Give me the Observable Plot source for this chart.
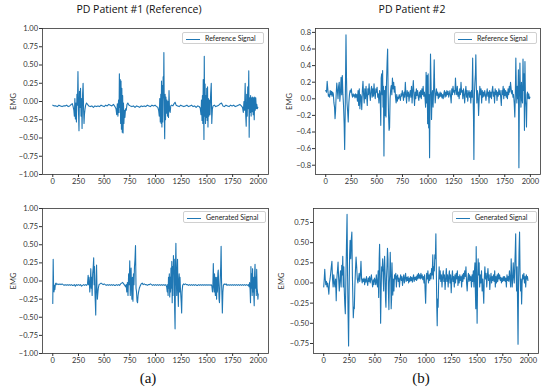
<!DOCTYPE html>
<html><head><meta charset="utf-8">
<script src="https://cdn.jsdelivr.net/npm/d3@7"></script>
<script src="https://cdn.jsdelivr.net/npm/@observablehq/plot@0.6"></script>
<style>
body{margin:0;background:#fff;}
#wrap{position:relative;width:550px;height:392px;background:#fff;overflow:hidden;font-family:Lato,"Open Sans",sans-serif;color:#222;}
.pl{position:absolute;}
.title{position:absolute;font-family:"Open Sans",Lato,sans-serif;font-size:10.5px;white-space:nowrap;transform:translateX(-50%);color:#111;}
.cap{position:absolute;font-family:"Liberation Serif",serif;font-size:15px;transform:translateX(-50%);color:#111;}
.leg{position:absolute;border:1px solid #d0d0d0;border-radius:2px;background:#fff;font-size:7px;height:10px;line-height:10px;white-space:nowrap;color:#222;}
.leg span.ln{display:inline-block;width:14px;height:0;border-top:1.4px solid #1f77b4;vertical-align:middle;margin:0 5px 0 3px;}
</style></head>
<body><div id="wrap"></div>
<script>
const titles = ["PD Patient #1 (Reference)", "PD Patient #2"];
const legendLabels = ["Reference Signal", "Generated Signal"];
const captions = ["(a)", "(b)"];
const xTicks = [0,250,500,750,1000,1250,1500,1750,2000];
const yTicksA = [-1,-0.75,-0.5,-0.25,0,0.25,0.5,0.75,1];
const yTicksB = [-0.8,-0.6,-0.4,-0.2,0,0.2,0.4,0.6,0.8];
const yTicksD = [-0.75,-0.5,-0.25,0,0.25,0.5,0.75];

const refP1 = [[0,-0.05],[15,-0.06],[30,-0.06],[45,-0.07],[60,-0.05],[75,-0.06],[90,-0.07],[105,-0.06],[120,-0.06],[135,-0.05],[150,-0.07],[165,-0.06],[180,-0.04],[190,-0.03],[198,-0.07],[205,-0.12],[210,-0.20],[215,0.04],[220,-0.24],[225,-0.02],[230,-0.28],[235,0.10],[240,-0.05],[245,0.41],[250,-0.12],[255,-0.40],[260,0.14],[265,-0.08],[270,0.18],[275,-0.20],[280,0.04],[285,-0.37],[290,0.10],[295,0.25],[300,-0.12],[304,-0.30],[308,-0.18],[314,-0.10],[320,-0.05],[328,-0.02],[338,-0.04],[350,-0.06],[365,-0.07],[380,-0.06],[395,-0.08],[410,-0.06],[425,-0.07],[440,-0.06],[455,-0.07],[470,-0.05],[485,-0.06],[500,-0.07],[515,-0.05],[530,-0.06],[545,-0.04],[560,-0.05],[575,-0.06],[590,-0.04],[605,-0.07],[615,-0.10],[622,-0.18],[628,-0.03],[634,-0.20],[640,0.02],[645,-0.15],[648,0.38],[652,-0.08],[656,0.30],[660,-0.30],[664,0.28],[668,-0.38],[672,0.18],[676,-0.42],[680,0.08],[684,-0.43],[688,-0.02],[692,-0.30],[697,-0.12],[702,-0.22],[708,-0.10],[715,-0.12],[722,-0.04],[730,-0.02],[742,-0.05],[755,-0.06],[770,-0.07],[785,-0.06],[800,-0.08],[815,-0.06],[830,-0.07],[845,-0.08],[860,-0.06],[875,-0.07],[890,-0.06],[905,-0.07],[920,-0.05],[935,-0.06],[950,-0.07],[965,-0.05],[980,-0.06],[995,-0.05],[1010,-0.07],[1022,-0.08],[1030,-0.12],[1036,-0.20],[1041,0.04],[1046,-0.28],[1051,0.10],[1055,-0.30],[1058,0.28],[1062,-0.35],[1066,0.22],[1070,-0.28],[1074,0.34],[1078,0.05],[1081,0.67],[1085,-0.18],[1089,-0.51],[1093,0.10],[1097,-0.25],[1101,0.06],[1106,-0.16],[1111,0.02],[1116,-0.20],[1121,0.00],[1126,-0.22],[1131,0.15],[1136,-0.12],[1142,-0.15],[1148,-0.06],[1156,-0.05],[1168,-0.06],[1180,-0.03],[1190,-0.01],[1200,-0.05],[1215,-0.06],[1230,-0.07],[1245,-0.05],[1260,-0.06],[1275,-0.07],[1290,-0.06],[1305,-0.05],[1320,-0.07],[1335,-0.06],[1350,-0.05],[1365,-0.07],[1380,-0.06],[1395,-0.08],[1410,-0.06],[1425,-0.07],[1435,-0.09],[1442,-0.18],[1447,0.02],[1452,-0.26],[1456,0.08],[1460,-0.30],[1464,0.30],[1468,-0.15],[1471,-0.52],[1474,0.62],[1478,-0.20],[1482,0.24],[1486,-0.30],[1490,0.08],[1494,-0.22],[1498,0.18],[1502,-0.26],[1506,0.20],[1510,-0.35],[1514,0.04],[1519,-0.20],[1524,0.02],[1530,-0.18],[1536,0.10],[1542,0.25],[1547,-0.30],[1553,-0.10],[1560,-0.06],[1572,-0.05],[1585,-0.07],[1600,-0.06],[1615,-0.05],[1630,-0.03],[1642,-0.02],[1655,-0.06],[1670,-0.07],[1685,-0.05],[1700,-0.06],[1715,-0.07],[1730,-0.05],[1745,-0.06],[1760,-0.05],[1775,-0.07],[1790,-0.06],[1805,-0.05],[1820,-0.04],[1835,-0.06],[1846,-0.08],[1854,-0.15],[1860,0.00],[1866,-0.12],[1872,0.25],[1877,-0.18],[1882,-0.34],[1887,0.10],[1892,-0.20],[1897,0.20],[1902,-0.10],[1907,0.42],[1911,-0.49],[1915,0.05],[1920,-0.15],[1925,0.08],[1930,-0.20],[1935,0.05],[1940,-0.14],[1945,0.06],[1950,-0.18],[1955,0.05],[1960,-0.25],[1965,0.06],[1970,-0.12],[1975,0.05],[1980,-0.10],[1985,-0.04],[1990,-0.10],[1995,-0.08]];

const refP2 = [[0,0.10],[8,0.08],[14,0.21],[20,0.12],[26,0.03],[32,0.05],[38,0.02],[44,0.10],[50,0.05],[56,0.09],[62,0.03],[68,0.08],[74,0.06],[80,-0.05],[86,-0.10],[91,-0.24],[96,-0.15],[102,0.05],[108,0.19],[114,0.10],[120,0.00],[126,0.15],[132,0.20],[138,-0.03],[144,0.08],[150,0.26],[156,0.05],[162,0.28],[168,0.05],[174,-0.08],[180,-0.30],[185,-0.61],[190,-0.20],[194,0.30],[198,0.77],[203,0.25],[208,-0.05],[214,-0.15],[220,-0.28],[226,-0.05],[232,0.05],[238,0.10],[244,0.08],[250,0.12],[256,0.05],[262,0.02],[268,0.06],[274,0.03],[280,0.05],[286,0.01],[292,0.06],[298,0.02],[304,0.05],[310,-0.03],[316,0.10],[322,-0.08],[328,0.12],[334,-0.12],[340,0.05],[346,0.02],[352,-0.13],[358,0.10],[364,0.21],[370,0.05],[376,-0.05],[382,0.12],[388,0.00],[394,0.15],[400,0.03],[406,-0.08],[412,0.12],[418,0.05],[424,0.18],[430,0.06],[436,-0.02],[442,0.10],[448,0.15],[454,0.02],[460,0.12],[466,0.03],[472,0.18],[478,0.06],[484,0.00],[490,0.12],[496,0.08],[502,0.14],[508,0.02],[514,0.06],[520,-0.05],[526,0.10],[532,0.05],[538,-0.32],[542,0.25],[547,0.30],[552,0.05],[556,0.34],[560,-0.10],[564,0.15],[569,-0.69],[574,0.10],[579,-0.20],[584,0.15],[589,-0.22],[594,0.20],[600,0.45],[605,0.60],[610,0.05],[614,-0.20],[619,-0.38],[624,-0.35],[629,0.00],[634,0.10],[640,0.16],[646,0.05],[652,0.25],[658,0.12],[664,0.20],[670,0.08],[676,0.15],[682,0.02],[688,-0.05],[694,0.05],[700,-0.03],[706,0.02],[712,0.00],[718,0.05],[724,0.02],[730,-0.02],[736,0.06],[742,0.03],[748,0.10],[754,0.05],[760,-0.02],[766,0.08],[772,0.02],[778,0.20],[784,0.05],[790,-0.05],[796,0.10],[802,0.03],[808,0.08],[814,-0.03],[820,0.05],[826,0.10],[832,0.02],[838,0.15],[844,-0.05],[850,0.10],[856,0.22],[862,0.05],[868,-0.08],[874,0.08],[880,0.00],[886,0.12],[892,0.04],[898,0.10],[904,0.02],[910,-0.02],[916,0.08],[922,0.02],[928,0.10],[934,0.00],[940,0.12],[946,0.05],[952,0.15],[958,0.03],[964,0.08],[970,0.02],[976,-0.10],[981,0.32],[986,-0.05],[991,0.28],[996,-0.30],[1001,0.30],[1006,-0.35],[1010,0.05],[1015,-0.71],[1020,0.10],[1024,0.54],[1029,0.20],[1034,-0.25],[1039,0.05],[1044,0.10],[1049,-0.10],[1054,0.10],[1060,0.47],[1065,0.10],[1070,-0.05],[1076,0.05],[1082,0.12],[1088,0.04],[1094,0.08],[1100,0.00],[1106,0.06],[1112,0.02],[1118,0.08],[1124,0.03],[1130,0.07],[1136,0.01],[1142,0.05],[1148,0.00],[1154,0.06],[1160,0.10],[1166,0.02],[1172,0.08],[1178,0.03],[1184,0.10],[1190,0.05],[1196,0.09],[1202,0.02],[1208,0.06],[1214,0.10],[1220,0.03],[1226,-0.05],[1232,0.12],[1238,0.05],[1244,0.15],[1250,0.08],[1256,0.10],[1262,0.05],[1268,0.25],[1274,0.10],[1280,0.05],[1286,0.15],[1292,0.03],[1298,0.08],[1304,0.00],[1310,0.12],[1316,0.05],[1322,0.20],[1328,0.08],[1334,0.10],[1340,0.00],[1346,0.12],[1352,0.05],[1358,-0.05],[1364,0.08],[1370,0.15],[1376,0.02],[1382,0.10],[1388,-0.03],[1394,0.06],[1400,0.10],[1406,0.02],[1412,0.08],[1418,-0.05],[1424,0.10],[1430,0.02],[1436,0.49],[1440,0.05],[1444,-0.20],[1448,-0.73],[1453,0.05],[1458,0.20],[1463,0.30],[1467,0.53],[1472,0.15],[1477,-0.05],[1482,0.10],[1488,0.05],[1494,-0.20],[1500,0.00],[1506,0.15],[1512,0.05],[1518,0.12],[1524,-0.05],[1530,0.10],[1536,0.02],[1542,0.08],[1548,0.03],[1554,0.10],[1560,0.05],[1566,-0.02],[1572,0.06],[1578,0.12],[1584,0.03],[1590,0.08],[1596,-0.05],[1602,0.10],[1608,0.02],[1614,0.08],[1620,0.00],[1626,0.10],[1632,0.15],[1638,0.03],[1644,0.08],[1650,-0.05],[1656,0.12],[1662,0.05],[1668,0.10],[1674,-0.02],[1680,0.08],[1686,0.03],[1692,0.12],[1698,0.05],[1704,0.10],[1710,0.02],[1716,-0.08],[1722,0.10],[1728,0.05],[1734,0.15],[1740,0.00],[1746,0.12],[1752,0.04],[1758,0.10],[1764,0.02],[1770,0.08],[1776,0.00],[1782,0.12],[1788,0.05],[1794,0.15],[1800,0.08],[1806,0.20],[1812,0.12],[1818,0.06],[1824,0.10],[1830,0.02],[1836,0.05],[1842,-0.05],[1848,-0.22],[1853,0.05],[1858,0.49],[1863,0.10],[1868,-0.05],[1873,0.15],[1878,0.00],[1883,0.35],[1888,-0.83],[1893,0.10],[1898,0.43],[1903,0.05],[1908,-0.10],[1913,0.20],[1918,0.00],[1923,-0.05],[1928,0.48],[1933,0.10],[1938,0.30],[1942,-0.38],[1947,0.45],[1952,0.00],[1957,-0.10],[1962,-0.34],[1967,0.05],[1972,0.08],[1978,0.00],[1984,0.06],[1990,0.00],[1996,0.02]];

const genP1 = [[0,-0.31],[4,0.30],[8,-0.10],[12,-0.15],[16,-0.06],[20,-0.12],[26,-0.04],[32,-0.03],[40,-0.05],[50,-0.04],[60,-0.05],[70,-0.04],[80,-0.05],[90,-0.04],[100,-0.05],[110,-0.06],[120,-0.05],[130,-0.06],[140,-0.05],[150,-0.06],[160,-0.05],[170,-0.06],[180,-0.05],[190,-0.06],[200,-0.06],[210,-0.05],[220,-0.07],[230,-0.05],[240,-0.06],[250,-0.05],[260,-0.06],[270,-0.05],[280,-0.07],[290,-0.06],[300,-0.05],[310,-0.06],[320,-0.05],[330,-0.06],[338,-0.04],[344,0.08],[348,-0.05],[352,0.05],[356,-0.02],[360,-0.15],[365,-0.02],[370,0.17],[374,-0.10],[378,0.05],[383,-0.20],[388,0.10],[393,0.18],[398,0.32],[402,-0.05],[406,0.20],[410,-0.15],[414,-0.30],[418,-0.47],[422,0.00],[426,0.22],[430,-0.10],[434,-0.25],[438,-0.18],[443,-0.10],[450,-0.05],[460,-0.04],[470,-0.03],[480,-0.04],[490,-0.05],[500,-0.04],[510,-0.05],[520,-0.06],[530,-0.05],[540,-0.06],[550,-0.05],[560,-0.06],[570,-0.05],[580,-0.06],[590,-0.05],[600,-0.06],[610,-0.06],[620,-0.05],[630,-0.06],[640,-0.05],[650,-0.06],[660,-0.04],[670,-0.03],[680,-0.02],[690,-0.04],[700,-0.06],[708,-0.08],[714,-0.05],[720,-0.15],[726,-0.02],[732,-0.20],[738,0.10],[744,-0.05],[749,0.28],[754,-0.20],[758,0.00],[762,0.18],[766,-0.10],[770,-0.25],[775,0.05],[780,-0.28],[785,0.10],[790,-0.05],[795,0.20],[800,0.30],[805,0.49],[810,-0.10],[815,-0.15],[820,-0.28],[825,-0.30],[830,-0.20],[835,-0.15],[842,-0.10],[850,-0.07],[860,-0.04],[870,-0.03],[880,-0.05],[890,-0.04],[900,-0.05],[910,-0.05],[920,-0.06],[930,-0.05],[940,-0.05],[950,-0.04],[960,-0.05],[970,-0.06],[980,-0.05],[990,-0.06],[1000,-0.05],[1010,-0.06],[1020,-0.05],[1030,-0.06],[1040,-0.05],[1050,-0.06],[1060,-0.05],[1070,-0.06],[1080,-0.05],[1090,-0.06],[1100,-0.05],[1108,-0.08],[1114,-0.15],[1118,-0.05],[1122,-0.20],[1126,0.05],[1130,-0.10],[1134,0.10],[1138,-0.22],[1142,0.05],[1146,-0.15],[1150,0.18],[1154,-0.10],[1158,0.27],[1162,-0.30],[1166,0.20],[1170,-0.20],[1174,0.35],[1178,0.10],[1182,0.30],[1186,-0.40],[1190,-0.66],[1194,0.20],[1198,0.52],[1202,0.05],[1206,-0.20],[1210,0.10],[1214,0.30],[1218,-0.15],[1222,-0.35],[1226,0.00],[1230,0.10],[1234,-0.15],[1238,0.05],[1242,-0.10],[1246,-0.20],[1250,-0.30],[1254,-0.44],[1258,-0.15],[1264,-0.06],[1272,-0.04],[1280,-0.05],[1290,-0.04],[1300,-0.05],[1310,-0.05],[1320,-0.06],[1330,-0.05],[1340,-0.06],[1350,-0.05],[1360,-0.06],[1370,-0.05],[1380,-0.06],[1390,-0.05],[1400,-0.06],[1410,-0.06],[1420,-0.05],[1430,-0.06],[1440,-0.05],[1450,-0.06],[1460,-0.05],[1470,-0.06],[1480,-0.05],[1490,-0.06],[1500,-0.05],[1510,-0.06],[1520,-0.05],[1530,-0.06],[1540,-0.05],[1548,-0.07],[1554,-0.15],[1558,-0.05],[1562,0.24],[1566,-0.05],[1570,-0.15],[1574,0.10],[1578,-0.10],[1582,-0.20],[1586,0.05],[1590,-0.10],[1594,-0.25],[1598,0.05],[1602,-0.15],[1606,0.10],[1610,0.15],[1614,-0.05],[1618,-0.25],[1622,-0.30],[1626,-0.10],[1630,0.05],[1634,0.20],[1638,0.48],[1642,0.00],[1646,-0.20],[1650,-0.44],[1655,-0.15],[1660,-0.06],[1668,-0.04],[1676,-0.05],[1686,-0.04],[1696,-0.06],[1706,-0.05],[1716,-0.06],[1726,-0.05],[1736,-0.06],[1746,-0.05],[1756,-0.06],[1766,-0.05],[1776,-0.06],[1786,-0.05],[1796,-0.06],[1806,-0.05],[1816,-0.06],[1826,-0.05],[1836,-0.06],[1846,-0.05],[1856,-0.06],[1866,-0.05],[1876,-0.06],[1886,-0.05],[1896,-0.06],[1904,-0.05],[1910,-0.08],[1915,-0.02],[1920,-0.12],[1924,-0.30],[1928,0.20],[1932,-0.10],[1936,0.10],[1940,-0.20],[1944,0.17],[1948,-0.15],[1952,0.05],[1956,-0.20],[1960,-0.34],[1964,0.10],[1968,0.23],[1972,-0.10],[1976,0.05],[1980,-0.20],[1984,0.16],[1988,-0.10],[1992,-0.15],[1996,-0.25],[1999,-0.18]];

const genP2 = [[0,-0.05],[5,0.05],[10,0.17],[15,0.05],[20,-0.02],[26,0.02],[32,-0.05],[38,0.00],[44,-0.06],[50,-0.14],[56,0.00],[62,0.05],[68,0.12],[74,0.20],[80,0.27],[86,0.05],[92,-0.05],[98,0.10],[104,0.00],[110,-0.05],[116,0.05],[122,-0.22],[128,0.05],[134,0.15],[140,0.26],[146,0.05],[152,-0.10],[158,0.05],[164,0.15],[170,-0.05],[176,0.22],[181,0.10],[186,0.33],[191,-0.05],[196,0.20],[201,-0.10],[206,-0.27],[211,-0.38],[216,0.00],[222,0.45],[228,0.85],[233,0.10],[238,-0.40],[243,-0.78],[248,-0.10],[253,0.35],[258,0.53],[264,0.30],[270,0.55],[275,0.63],[280,0.10],[285,-0.20],[289,-0.43],[294,-0.30],[299,-0.32],[304,-0.05],[310,0.15],[316,0.32],[322,0.20],[328,0.05],[334,0.00],[340,0.05],[346,0.12],[352,0.02],[358,0.10],[364,0.27],[370,0.05],[376,0.00],[382,0.05],[388,0.02],[394,0.06],[400,-0.02],[406,0.05],[412,0.01],[418,0.08],[424,0.02],[430,-0.03],[436,0.06],[442,0.02],[448,0.08],[454,0.00],[460,0.05],[466,0.10],[472,0.02],[478,-0.05],[484,0.04],[490,-0.02],[496,0.06],[502,0.03],[508,-0.02],[514,0.10],[520,0.00],[526,-0.05],[532,0.15],[537,-0.18],[542,0.30],[546,0.48],[551,0.10],[556,-0.50],[561,-0.10],[566,0.20],[571,0.15],[576,0.30],[581,0.05],[586,-0.10],[590,0.20],[595,0.33],[600,0.10],[604,-0.20],[608,-0.30],[613,0.05],[618,0.20],[623,0.43],[628,0.30],[632,-0.10],[637,-0.33],[641,0.00],[645,0.10],[650,0.38],[655,0.10],[659,-0.32],[663,-0.20],[667,0.25],[671,0.05],[675,-0.15],[680,0.05],[686,-0.10],[692,0.10],[698,0.05],[704,0.12],[710,-0.05],[716,0.08],[722,0.10],[728,0.02],[734,0.06],[740,-0.05],[746,0.05],[752,0.10],[758,0.03],[764,0.08],[770,-0.03],[776,0.05],[782,0.10],[788,0.00],[794,0.06],[800,0.12],[806,0.02],[812,0.07],[818,0.03],[824,0.08],[830,0.00],[836,0.06],[842,0.02],[848,0.08],[854,0.03],[860,0.07],[866,0.01],[872,0.06],[878,0.10],[884,0.02],[890,0.07],[896,0.04],[902,0.08],[908,0.03],[914,0.10],[920,0.05],[926,0.12],[932,0.06],[938,0.10],[944,0.05],[950,0.12],[956,0.06],[962,0.10],[968,0.04],[974,0.08],[980,0.00],[986,0.10],[991,-0.10],[996,-0.25],[1001,0.00],[1006,0.12],[1012,0.05],[1018,0.15],[1024,0.00],[1030,0.10],[1036,0.03],[1042,0.12],[1048,0.05],[1054,0.18],[1060,0.10],[1066,0.35],[1071,0.05],[1076,0.20],[1081,0.15],[1086,0.35],[1091,0.30],[1096,0.61],[1101,0.10],[1105,-0.30],[1109,-0.53],[1113,-0.20],[1118,-0.30],[1123,0.00],[1128,0.20],[1133,0.05],[1138,0.15],[1144,0.02],[1150,0.10],[1156,-0.05],[1162,0.08],[1168,0.15],[1174,0.02],[1180,0.10],[1186,-0.08],[1192,0.05],[1198,0.18],[1204,0.02],[1210,0.10],[1216,-0.05],[1222,0.08],[1228,0.15],[1234,0.00],[1240,0.10],[1246,-0.12],[1252,0.05],[1258,0.15],[1264,0.02],[1270,0.08],[1276,-0.05],[1282,0.10],[1288,0.00],[1294,0.12],[1300,0.05],[1306,0.15],[1312,-0.03],[1318,0.08],[1324,0.00],[1330,0.10],[1336,0.03],[1342,0.08],[1348,-0.05],[1354,0.10],[1360,0.02],[1366,0.12],[1372,0.05],[1378,0.15],[1384,0.08],[1390,0.20],[1396,0.00],[1402,-0.10],[1408,0.05],[1414,0.12],[1420,0.02],[1426,0.10],[1432,0.03],[1438,0.08],[1444,-0.05],[1450,0.10],[1456,0.02],[1462,0.15],[1468,-0.05],[1473,0.15],[1478,0.25],[1482,-0.10],[1486,-0.32],[1490,0.45],[1494,0.05],[1499,-0.50],[1504,0.05],[1509,0.30],[1514,0.10],[1519,0.25],[1524,-0.05],[1530,0.10],[1536,0.00],[1542,0.15],[1548,-0.10],[1554,0.05],[1559,-0.10],[1564,-0.25],[1569,0.05],[1575,0.20],[1581,0.05],[1587,0.12],[1593,-0.05],[1599,0.08],[1605,0.18],[1611,0.03],[1617,0.10],[1623,-0.08],[1629,0.05],[1635,0.12],[1641,0.00],[1647,0.08],[1653,0.03],[1659,0.10],[1665,0.02],[1671,0.15],[1677,-0.05],[1683,0.08],[1689,0.00],[1695,0.10],[1701,0.02],[1707,0.12],[1713,0.05],[1719,0.10],[1725,0.03],[1731,0.07],[1737,0.00],[1743,0.06],[1749,0.02],[1755,0.08],[1761,0.03],[1767,0.08],[1773,0.02],[1779,0.06],[1785,-0.05],[1791,0.10],[1797,0.03],[1803,0.08],[1809,0.02],[1815,0.15],[1821,0.05],[1827,-0.05],[1832,0.30],[1837,0.10],[1842,-0.05],[1847,0.05],[1852,0.25],[1857,0.10],[1862,0.00],[1867,0.20],[1872,0.40],[1876,0.61],[1881,0.10],[1885,-0.10],[1890,0.20],[1895,-0.30],[1899,-0.76],[1904,0.00],[1909,0.40],[1914,0.63],[1919,0.10],[1924,-0.10],[1929,0.05],[1934,-0.26],[1939,0.00],[1944,0.10],[1950,0.05],[1956,0.12],[1962,0.00],[1968,0.08],[1974,-0.05],[1980,0.10],[1986,0.05],[1991,0.08],[1996,0.03]];

const wrap = document.getElementById("wrap");
const fmt2 = d3.format(".2f"), fmt1 = d3.format(".1f");

function panel(o) {
  const chart = Plot.plot({
    width: o.w, height: o.h,
    marginLeft: o.ml, marginRight: o.mr, marginTop: o.mt, marginBottom: o.mb,
    style: {fontFamily: "Lato, 'Open Sans', sans-serif", fontSize: "7.5px", color: "#333", background: "transparent", overflow: "visible"},
    x: {domain: [-100, 2099]},
    y: {domain: o.yDomain},
    marks: [
      Plot.axisX({ticks: xTicks, tickSize: 3, tickPadding: 1.5, tickFormat: d => String(d), label: null, stroke: "#333"}),
      Plot.axisY({ticks: o.yTicks, tickSize: 3, tickPadding: 1.5, tickFormat: o.fmt, label: "EMG", labelAnchor: "center", labelArrow: "none", labelOffset: o.lo, stroke: "#333"}),
      Plot.line(o.data, {x: d => d[0], y: d => d[1], stroke: "#1f77b4", strokeWidth: 1.1}),
      Plot.frame({stroke: "#333", strokeWidth: 0.8})
    ]
  });
  chart.classList.add("pl");
  chart.style.left = o.left + "px";
  chart.style.top = o.top + "px";
  wrap.appendChild(chart);
}

panel({data: refP1, yDomain: [-1, 1], yTicks: yTicksA, fmt: fmt2, left: 0, top: 18, w: 275, h: 176, ml: 42, mr: 7, mt: 10, mb: 20, lo: 32});
panel({data: refP2, yDomain: [-0.912, 0.847], yTicks: yTicksB, fmt: fmt1, left: 275, top: 18, w: 275, h: 176, ml: 40, mr: 10, mt: 10, mb: 20, lo: 29});
panel({data: genP1, yDomain: [-1, 1], yTicks: yTicksA, fmt: fmt2, left: 0, top: 198, w: 275, h: 174, ml: 42, mr: 7, mt: 10, mb: 19, lo: 32});
panel({data: genP2, yDomain: [-0.874, 0.923], yTicks: yTicksD, fmt: fmt2, left: 275, top: 198, w: 275, h: 174, ml: 38, mr: 12, mt: 10, mb: 19, lo: 35});

function addDiv(cls, text, x, y) {
  const d = document.createElement("div");
  d.className = cls; d.textContent = text;
  d.style.left = x + "px"; d.style.top = y + "px";
  wrap.appendChild(d); return d;
}
addDiv("title", titles[0], 139, 2);
addDiv("title", titles[1], 412, 2);
addDiv("cap", captions[0], 148, 370);
addDiv("cap", captions[1], 421, 370);

function legend(label, x, y, w) {
  const d = document.createElement("div");
  d.className = "leg";
  d.style.left = x + "px"; d.style.top = y + "px"; d.style.width = w + "px";
  const ln = document.createElement("span"); ln.className = "ln";
  d.appendChild(ln);
  d.appendChild(document.createTextNode(label));
  wrap.appendChild(d);
}
legend(legendLabels[0], 182, 32, 80);
legend(legendLabels[0], 454, 32, 81);
legend(legendLabels[1], 183, 211, 81);
legend(legendLabels[1], 452, 211, 83);
</script></body></html>
